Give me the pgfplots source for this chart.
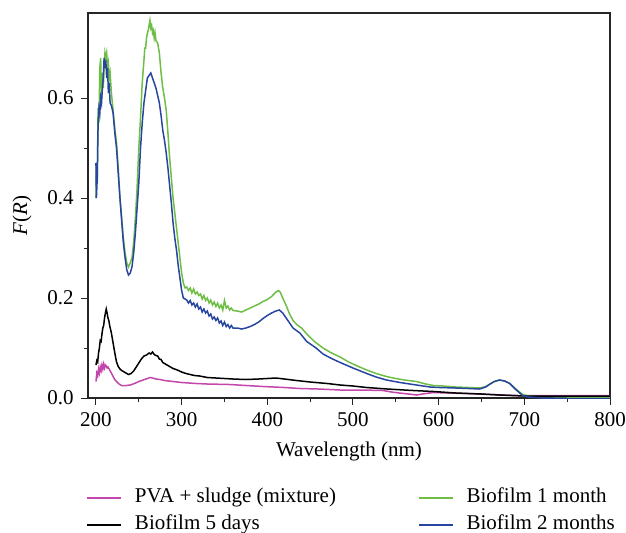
\documentclass[border=0pt]{standalone}
\usepackage{pgfplots}
\pgfplotsset{compat=1.18}
\usepackage{fontspec}
\setmainfont{Liberation Serif}
\definecolor{cpva}{RGB}{195,70,170}
\definecolor{cgreen}{RGB}{110,190,70}
\definecolor{cblue}{RGB}{40,70,160}
\begin{document}
\fontsize{10.5}{12}\selectfont
\begin{tikzpicture}
\useasboundingbox (-44pt,-67pt) rectangle (269pt,199pt);
\begin{axis}[
  at={(0,0)}, anchor=south west,
  scale only axis, width=261pt, height=192.5pt,
  xmin=190.7, xmax=800, ymin=0, ymax=0.77,
  xtick={200,300,...,800}, ytick={0,0.2,0.4,0.6},
  minor x tick num=1, minor y tick num=1,
  tick align=outside, xtick pos=bottom, ytick pos=left,
  major tick length=3.5pt, minor tick length=2.2pt,
  /pgf/number format/assume math mode=true,
  yticklabel style={/pgf/number format/.cd, fixed, fixed zerofill, precision=1},
  xticklabel style={/pgf/number format/.cd, fixed, set thousands separator={}},
  ticklabel style={font=\fontsize{10.5}{12}\selectfont},
  axis line style={line width=0.6pt, black!85},
  every tick/.style={black!85, line width=0.5pt},
  xlabel={Wavelength (nm)},
  ylabel={\textit{F}(\textit{R})},
  x label style={at={(axis description cs:0.5,0)}, anchor=center, yshift=-26.5pt},
  y label style={at={(axis description cs:-0.1264,0.475)}, anchor=center},
  legend columns=2,
  legend cell align=left,
  legend style={at={(rel axis cs:0,0)}, anchor=north west, yshift=-44.7pt, xshift=-1pt,
    draw=none, fill=none, inner sep=0pt, row sep=3.5pt,
    font=\fontsize{10.5}{12}\selectfont,
    nodes={inner sep=0pt, text height=7.5pt, text depth=2.5pt},
    /tikz/every odd column/.append style={column sep=6.5pt},
    /tikz/every even column/.append style={column sep=0pt}},
  legend image code/.code={\draw[#1, line width=0.8pt] (0pt,0pt) -- (17pt,0pt);},
  every axis plot/.append style={line width=0.75pt},
]
\addplot[cpva, no markers] coordinates {
(200,0.033)(201,0.05)(202,0.045)(203,0.058)(204,0.05)(205,0.062)(206,0.055)(207,0.066)(208,0.058)(209,0.068)(210,0.06)(211,0.066)(212,0.064)(213,0.06)(214,0.062)(216,0.056)(218,0.05)(220,0.043)(222,0.037)(224,0.033)(227,0.028)(230,0.025)(235,0.025)(240,0.026)(245,0.029)(250,0.033)(255,0.036)(260,0.039)(263,0.041)(266,0.04)(270,0.038)(275,0.037)(280,0.035)(290,0.033)(300,0.031)(317,0.029)(330,0.028)(356,0.027)(375,0.025)(395,0.023)(420,0.021)(438,0.019)(460,0.018)(485,0.016)(510,0.016)(535,0.015)(545,0.012)(554,0.01)(565,0.008)(574,0.006)(585,0.009)(594,0.011)(610,0.01)(632,0.009)(660,0.007)(690,0.005)(730,0.005)(760,0.005)(800,0.005)
};
\addlegendentry{\makebox[141.5pt][l]{PVA + sludge (mixture)}}
\addplot[cgreen, no markers] coordinates {
(200,0.40)(200.5,0.47)(201.5,0.43)(202.5,0.58)(203.5,0.55)(204.5,0.66)(205.5,0.68)(206.5,0.60)(207.5,0.65)(208.5,0.62)(209.5,0.66)(210.5,0.69)(211.5,0.68)(212.5,0.69)(213.5,0.66)(214.5,0.67)(215.5,0.64)(216.5,0.65)(218,0.61)(220,0.575)(222,0.54)(224,0.51)(226,0.46)(228,0.40)(230,0.36)(232,0.32)(234,0.29)(236,0.27)(238,0.262)(240,0.27)(242,0.28)(244,0.31)(246,0.36)(248,0.42)(250,0.50)(252,0.56)(254,0.63)(256,0.675)(257,0.70)(258,0.70)(259,0.72)(260,0.73)(261,0.735)(262,0.745)(263,0.755)(264,0.74)(265,0.745)(266,0.73)(267,0.735)(268,0.72)(269,0.73)(270,0.715)(272,0.71)(274,0.69)(276,0.65)(278,0.62)(280,0.60)(282,0.575)(284,0.53)(286,0.48)(288,0.44)(290,0.40)(292,0.37)(294,0.34)(296,0.31)(298,0.28)(300,0.25)(302,0.23)(304,0.22)(306,0.222)(308,0.215)(310,0.22)(312,0.21)(314,0.218)(316,0.208)(318,0.212)(320,0.205)(322,0.208)(324,0.198)(326,0.205)(328,0.195)(330,0.2)(332,0.19)(334,0.196)(336,0.186)(338,0.192)(340,0.183)(342,0.19)(344,0.18)(346,0.186)(348,0.176)(350,0.195)(352,0.18)(354,0.184)(356,0.176)(358,0.18)(360,0.175)(365,0.174)(370,0.172)(375,0.176)(380,0.18)(385,0.184)(390,0.188)(395,0.193)(400,0.197)(405,0.203)(410,0.212)(413,0.215)(415,0.212)(418,0.2)(422,0.185)(426,0.168)(430,0.155)(435,0.146)(440,0.14)(446,0.128)(455,0.113)(465,0.1)(475,0.09)(485,0.082)(495,0.072)(505,0.064)(516,0.056)(527,0.049)(539,0.043)(550,0.039)(560,0.036)(574,0.033)(585,0.028)(594,0.025)(605,0.024)(620,0.022)(635,0.021)(648,0.02)(655,0.023)(660,0.028)(665,0.033)(671,0.036)(677,0.034)(683,0.029)(690,0.018)(698,0.007)(705,0.004)(720,0.003)(750,0.002)(800,0.002)
};
\addlegendentry{Biofilm 1 month}
\addplot[black, no markers] coordinates {
(200,0.066)(201,0.075)(202,0.072)(203,0.09)(204,0.1)(205,0.115)(206,0.113)(207,0.128)(208,0.14)(209,0.145)(210,0.16)(211,0.17)(212,0.178)(213,0.17)(214,0.16)(215,0.155)(216,0.145)(218,0.13)(220,0.11)(222,0.09)(224,0.072)(226,0.063)(228,0.058)(230,0.055)(232,0.053)(235,0.05)(238,0.047)(241,0.049)(244,0.054)(247,0.062)(250,0.07)(253,0.078)(256,0.084)(259,0.086)(262,0.09)(264,0.088)(266,0.092)(268,0.087)(270,0.085)(272,0.084)(274,0.078)(276,0.077)(278,0.071)(282,0.067)(286,0.063)(290,0.059)(295,0.056)(300,0.052)(305,0.049)(310,0.047)(315,0.045)(321,0.044)(330,0.041)(340,0.04)(350,0.039)(360,0.038)(375,0.037)(390,0.038)(400,0.039)(410,0.04)(420,0.038)(434,0.035)(450,0.032)(470,0.029)(485,0.026)(500,0.024)(516,0.021)(540,0.018)(570,0.015)(594,0.013)(620,0.01)(650,0.008)(671,0.006)(700,0.004)(750,0.004)(800,0.004)
};
\addlegendentry{\makebox[141.5pt][l]{Biofilm 5 days}}
\addplot[cblue, no markers] coordinates {
(200,0.47)(200.5,0.40)(201.5,0.44)(202.5,0.55)(203.5,0.58)(204.5,0.57)(205.5,0.60)(206.5,0.59)(207.5,0.62)(208.5,0.64)(209.5,0.68)(210.5,0.66)(211.5,0.675)(212.5,0.64)(213.5,0.66)(214.5,0.61)(215.5,0.63)(216.5,0.59)(218,0.585)(220,0.57)(222,0.53)(224,0.50)(226,0.45)(228,0.40)(230,0.355)(232,0.31)(234,0.28)(236,0.256)(238,0.246)(240,0.25)(242,0.262)(244,0.29)(246,0.33)(248,0.38)(250,0.43)(252,0.50)(254,0.55)(256,0.59)(258,0.615)(260,0.64)(262,0.645)(264,0.65)(266,0.64)(268,0.63)(270,0.62)(272,0.605)(274,0.59)(276,0.565)(278,0.535)(280,0.515)(282,0.49)(284,0.46)(286,0.425)(288,0.39)(290,0.35)(292,0.32)(294,0.296)(296,0.265)(298,0.24)(300,0.215)(302,0.2)(304,0.198)(306,0.196)(308,0.19)(310,0.195)(312,0.186)(314,0.19)(316,0.182)(318,0.188)(320,0.178)(322,0.182)(324,0.172)(326,0.178)(328,0.17)(330,0.174)(332,0.164)(334,0.168)(336,0.158)(338,0.162)(340,0.155)(342,0.16)(344,0.15)(346,0.154)(348,0.145)(350,0.152)(352,0.143)(354,0.147)(356,0.14)(358,0.145)(360,0.14)(365,0.14)(370,0.138)(375,0.14)(380,0.143)(385,0.147)(390,0.152)(395,0.159)(400,0.165)(405,0.17)(410,0.174)(414,0.176)(418,0.17)(422,0.16)(426,0.15)(430,0.14)(438,0.13)(446,0.113)(457,0.1)(465,0.088)(475,0.079)(485,0.071)(500,0.06)(516,0.049)(527,0.042)(539,0.036)(555,0.031)(574,0.026)(590,0.022)(601,0.021)(620,0.02)(635,0.019)(648,0.018)(655,0.022)(660,0.028)(665,0.033)(671,0.036)(677,0.034)(683,0.029)(690,0.017)(698,0.005)(705,0.002)(720,0.0)(750,-0.001)(800,-0.001)
};
\addlegendentry{Biofilm 2 months}
\end{axis}
\end{tikzpicture}
\end{document}
